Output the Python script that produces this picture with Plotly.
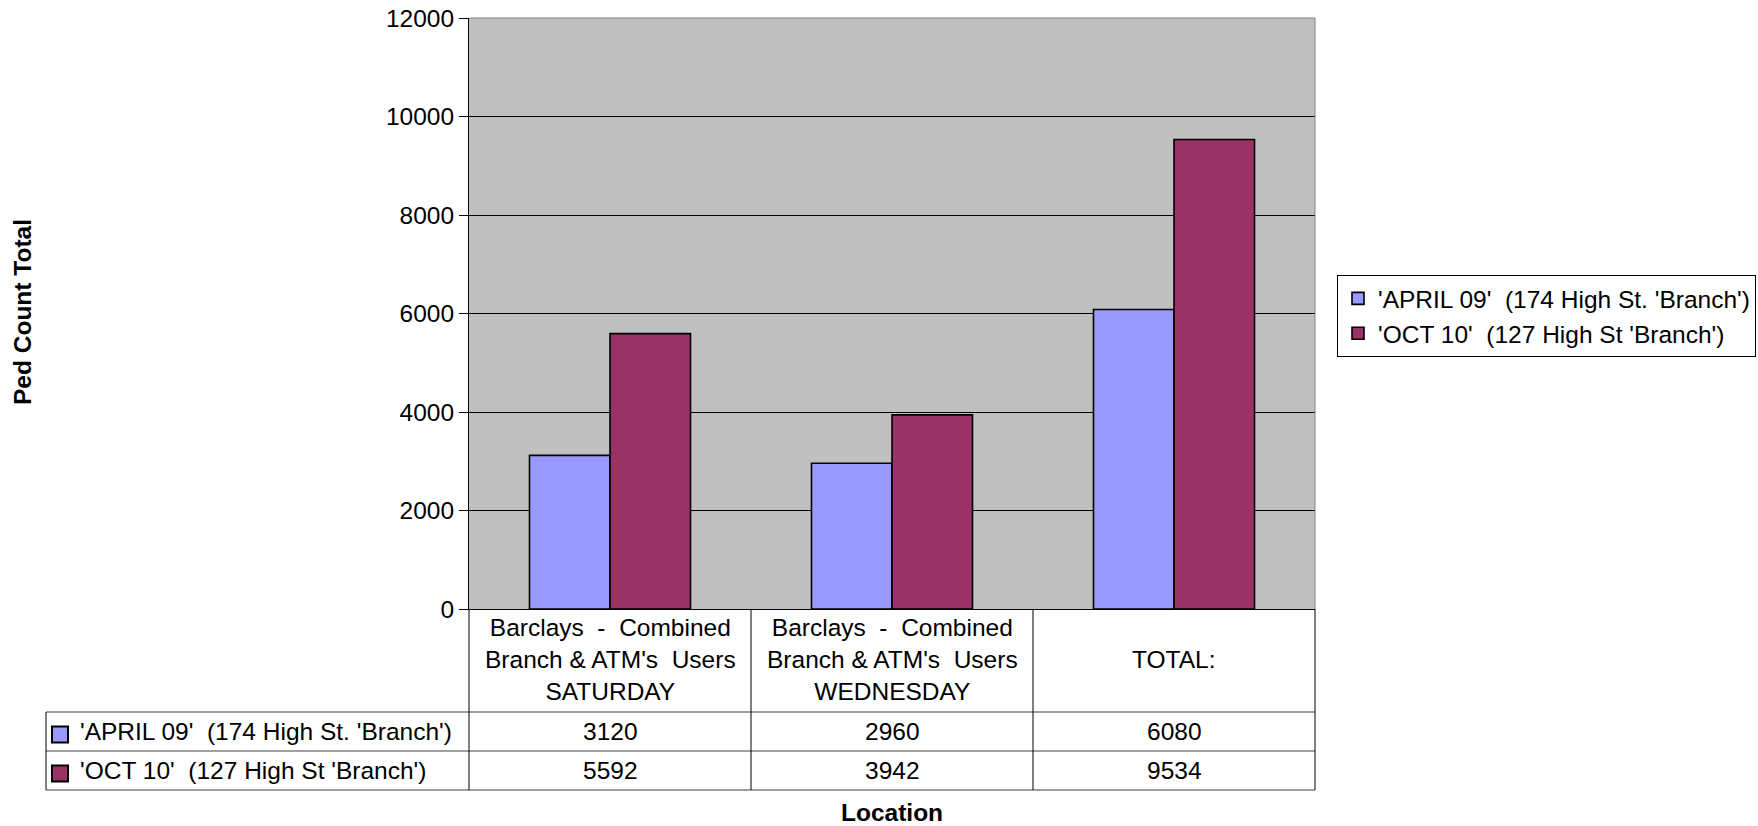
import plotly.graph_objects as go

# ---------------- data ----------------
categories = ["SATURDAY", "WEDNESDAY", "TOTAL:"]
header_lines = [
    ["Barclays  -  Combined", "Branch & ATM's  Users", "SATURDAY"],
    ["Barclays  -  Combined", "Branch & ATM's  Users", "WEDNESDAY"],
    ["TOTAL:"],
]
series_names = ["'APRIL 09'  (174 High St. 'Branch')", "'OCT 10'  (127 High St 'Branch')"]
april_09 = [3120, 2960, 6080]
oct_10 = [5592, 3942, 9534]
y_ticks = [0, 2000, 4000, 6000, 8000, 10000, 12000]
series_colors = ["#9999FF", "#993366"]

x_title = "Location"
y_title = "Ped Count Total"

# ---------------- layout geometry (pixels) ----------------
W, H = 1758, 826
L, R, T, B = 469, 1315, 18, 609
PW, PH = R - L, B - T
FONT = "Arial, 'Liberation Sans', sans-serif"
FS = 24.5


def nb(s):
    return s.replace("  ", "\u00a0 ")


def px_x(x):
    return (x - L) / PW


def px_y(y):
    return (B - y) / PH


series_values = [april_09, oct_10]

fig = go.Figure()
for name, vals, col in zip(series_names, series_values, series_colors):
    fig.add_trace(go.Bar(
        x=categories, y=vals, name=nb(name),
        marker=dict(color=col, line=dict(color="black", width=1.6)),
    ))

shapes = []
# plot border (top & right, gray)
shapes.append(dict(type="line", xref="paper", yref="paper", x0=0, x1=1, y0=1, y1=1,
                   line=dict(color="#808080", width=1)))
shapes.append(dict(type="line", xref="paper", yref="paper", x0=1, x1=1, y0=0, y1=1,
                   line=dict(color="#808080", width=1)))

# data table grid
row_tops = [712, 751, 790]
tab_left = 46
for yy in row_tops:
    shapes.append(dict(type="line", xref="paper", yref="paper",
                       x0=px_x(tab_left), x1=1, y0=px_y(yy), y1=px_y(yy),
                       line=dict(color="#404040", width=1)))
shapes.append(dict(type="line", xref="paper", yref="paper",
                   x0=px_x(tab_left), x1=px_x(tab_left), y0=px_y(712), y1=px_y(790),
                   line=dict(color="black", width=1)))
ncat = len(categories)
for i in range(ncat + 1):
    xp = i / ncat
    shapes.append(dict(type="line", xref="paper", yref="paper",
                       x0=xp, x1=xp, y0=0, y1=px_y(790),
                       line=dict(color="black", width=1)))

# table legend swatches
row_centers = [731.5, 770.5]
for rc, col in zip(row_centers, series_colors):
    shapes.append(dict(type="rect", xref="paper", yref="paper",
                       x0=px_x(52), x1=px_x(68), y0=px_y(rc - 5), y1=px_y(rc + 11),
                       fillcolor=col, line=dict(color="black", width=2)))

annotations = []
# header row (category labels)
for cat, lines in zip(categories, header_lines):
    annotations.append(dict(x=cat, xref="x", y=px_y(659), yref="paper",
                            text="<br>".join(nb(s) for s in lines), showarrow=False,
                            xanchor="center", yanchor="middle", align="center",
                            font=dict(family=FONT, size=FS, color="black")))
# value rows
for rc, vals in zip(row_centers, series_values):
    for cat, v in zip(categories, vals):
        annotations.append(dict(x=cat, xref="x", y=px_y(rc), yref="paper",
                                text=str(v), showarrow=False,
                                xanchor="center", yanchor="middle",
                                font=dict(family=FONT, size=FS, color="black")))
# row labels
for rc, name in zip(row_centers, series_names):
    annotations.append(dict(x=px_x(78), xref="paper", y=px_y(rc), yref="paper",
                            text=nb(name), showarrow=False,
                            xanchor="left", yanchor="middle",
                            font=dict(family=FONT, size=FS, color="black")))
# axis titles
annotations.append(dict(x=0.5, xref="paper", y=px_y(812), yref="paper",
                        text="<b>%s</b>" % x_title, showarrow=False,
                        xanchor="center", yanchor="middle",
                        font=dict(family=FONT, size=FS, color="black")))
annotations.append(dict(x=px_x(22), xref="paper", y=px_y(312), yref="paper",
                        text="<b>%s</b>" % y_title, showarrow=False, textangle=-90,
                        xanchor="center", yanchor="middle",
                        font=dict(family=FONT, size=FS, color="black")))

fig.update_layout(
    width=W, height=H, autosize=False,
    margin=dict(l=L, r=W - R, t=T, b=H - B, pad=0, autoexpand=False),
    paper_bgcolor="white", plot_bgcolor="#C0C0C0",
    font=dict(family=FONT, size=FS, color="black"),
    barmode="group", bargap=0.429, bargroupgap=0,
    showlegend=True,
    legend=dict(x=px_x(1756), y=px_y(275), xanchor="right", yanchor="top",
                bordercolor="black", borderwidth=1, bgcolor="white",
                font=dict(family=FONT, size=FS, color="black"),
                traceorder="normal"),
    xaxis=dict(type="category", range=[-0.5, ncat - 0.5], showticklabels=False,
               ticks="", showgrid=False, showline=True, linecolor="black", linewidth=1,
               zeroline=False, fixedrange=True, automargin=False),
    yaxis=dict(range=[0, 12000], tickvals=y_ticks, ticktext=[str(t) for t in y_ticks],
               ticks="outside", ticklen=9, tickwidth=1, tickcolor="black",
               ticklabeloverflow="allow", automargin=False,
               showgrid=True, gridcolor="black", gridwidth=1,
               showline=True, linecolor="black", linewidth=1, zeroline=False,
               tickfont=dict(family=FONT, size=FS, color="black"), fixedrange=True),
    shapes=shapes, annotations=annotations,
)

fig.write_html("out.html", config={"displayModeBar": False},
               post_script="document.body.style.margin='0px';")
